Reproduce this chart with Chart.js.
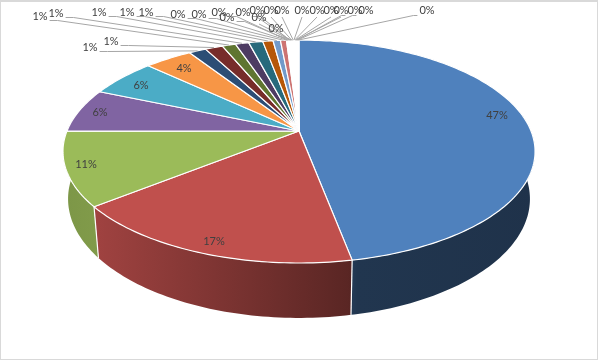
<!DOCTYPE html>
<html><head><meta charset="utf-8">
<style>
html,body{margin:0;padding:0;background:#fff;overflow:hidden}
#wrap{position:relative;width:598px;height:360px}
#frame{position:absolute;left:0;top:0;right:0;bottom:0;box-sizing:border-box;border:1px solid #d9d9d9;border-top-width:2px;pointer-events:none}
canvas{display:block}
</style>
<script src="https://cdn.jsdelivr.net/npm/chart.js@4"></script>
</head><body>
<div id="wrap"><canvas id="c" width="598" height="360"></canvas><div id="frame"></div></div>
<script>
// Data
const categories = ['A','B','C','D','E','F','G','H','I','J','K','L','M','N','O','P','Q','R','S','T','U','V','W','X','Y','Z','AA','AB','AC','AD'];
const values = [47,17.3,10.7,6.4,5.55,3.9,1.4,1.45,1.1,1.1,1.15,0.85,0.6,0.49,
  0.07,0.06,0.08,0.06,0.07,0.06,0.05,0.07,0.06,0.06,0.05,0.07,0.06,0.06,0.06,0.08];
const sliceColors = ['#4F81BD','#C0504D','#9BBB59','#8064A2','#4BACC6','#F79646','#2C4D75','#772C2A','#5F7530','#4D3B62','#276A7C','#B65708','#729ACA','#CD7371',
  '#FFFFFF','#FFFFFF','#FFFFFF','#FFFFFF','#FFFFFF','#FFFFFF','#FFFFFF','#FFFFFF','#FFFFFF','#FFFFFF','#FFFFFF','#FFFFFF','#FFFFFF','#FFFFFF','#FFFFFF','#FFFFFF'];

// Layout of the labels, by slice (text centre on the page)
const labelSpots = [[497,115],[214,241],[86,164],[100,112],[141,85],[184,68],
  [90,47],[111,41],[40,16],[56,13],[99,12],[127,12],[146,12],
  [178,14],[199,14],[219,12],[227,17],[243,12],[257,10],[259,17],[271,10],[276,28],[282,10],
  [302,10],[317,10],[331,10],[341,10],[355,10],[366,10],[427,10]];
const firstOutside = 6;

// Perspective of the tilted disc
const P = {cx:299, cy:131, rx:232, ry:107.7, k:-0.184, bx:227, by:115, by0:177};
const top3d = (a)=>{const u=Math.cos(a),v=Math.sin(a),d=1+P.k*v;return [P.cx+P.rx*u/d,P.cy+P.ry*v/d];};
const bot3d = (a)=>{const u=Math.cos(a),v=Math.sin(a),d=1+P.k*v;return [P.cx+P.bx*u/d,P.by0+P.by*v/d];};

function shade(hex,f){const n=parseInt(hex.slice(1),16);
  return `rgb(${Math.round((n>>16&255)*f)},${Math.round((n>>8&255)*f)},${Math.round((n&255)*f)})`;}
function wallFill(ctx,hex){const g=ctx.createLinearGradient(60,0,540,0);
  [[0,.80],[.08,.83],[.6,.47],[.62,.42],[1,.39]].forEach(s=>g.addColorStop(s[0],shade(hex,s[1])));return g;}

const pie3d = {
  id:'pie3d',
  beforeDatasetsDraw(chart){
    const ctx=chart.ctx, arcs=chart.getDatasetMeta(0).data, step=0.02;
    ctx.save();
    // side walls
    arcs.forEach((arc,i)=>{
      const a0=Math.max(arc.startAngle,-0.15), a1=Math.min(arc.endAngle,Math.PI+0.15);
      if(a1<=a0) return;
      ctx.beginPath();
      for(let a=a0;a<a1;a+=step){
        const b=Math.min(a+step,a1),p=top3d(a),q=top3d(b),r=bot3d(b),s=bot3d(a);
        ctx.moveTo(p[0],p[1]);ctx.lineTo(q[0],q[1]);ctx.lineTo(r[0],r[1]);ctx.lineTo(s[0],s[1]);ctx.closePath();
      }
      ctx.fillStyle=wallFill(ctx,sliceColors[i]);ctx.fill();
    });
    // white edges between walls
    ctx.strokeStyle='#fff';ctx.lineWidth=1.2;
    arcs.forEach(arc=>{
      const a=arc.endAngle; if(a<0||a>Math.PI) return;
      const p=top3d(a),q=bot3d(a);
      ctx.beginPath();ctx.moveTo(p[0],p[1]);ctx.lineTo(q[0],q[1]);ctx.stroke();
    });
    // top face
    arcs.forEach((arc,i)=>{
      ctx.beginPath();ctx.moveTo(P.cx,P.cy);
      for(let a=arc.startAngle;a<arc.endAngle;a+=step){const p=top3d(a);ctx.lineTo(p[0],p[1]);}
      const e=top3d(arc.endAngle);ctx.lineTo(e[0],e[1]);ctx.closePath();
      ctx.fillStyle=sliceColors[i];ctx.fill();
      ctx.strokeStyle='#fff';ctx.lineWidth=1.2;ctx.lineJoin='round';ctx.stroke();
    });
    // leader lines and labels
    ctx.font='11px Lato';ctx.textAlign='center';ctx.textBaseline='middle';
    const total=values.reduce((s,v)=>s+v,0);
    arcs.forEach((arc,i)=>{
      const [x,y]=labelSpots[i], t=Math.round(values[i]/total*100)+'%';
      if(i>=firstOutside){
        const tgt=top3d((arc.startAngle+arc.endAngle)/2), hw=ctx.measureText(t).width/2;
        ctx.strokeStyle='#A6A6A6';ctx.lineWidth=1;ctx.beginPath();
        if(x<tgt[0]-45){ctx.moveTo(x+hw+2,y+4.5);ctx.lineTo(x+hw+10,y+4.5);}
        else if(x>tgt[0]+45){ctx.moveTo(x-hw-2,y+5.5);ctx.lineTo(x-hw-6,y+5.5);}
        else {ctx.moveTo(x,y+7);}
        ctx.lineTo(tgt[0],tgt[1]);ctx.stroke();
      }
    });
    ctx.fillStyle='#404040';
    arcs.forEach((arc,i)=>{
      const [x,y]=labelSpots[i];
      ctx.fillText(Math.round(values[i]/total*100)+'%',x,y);
    });
    ctx.restore();
    return false;
  }
};

new Chart(document.getElementById('c'),{
  type:'pie',
  data:{labels:categories,datasets:[{data:values,backgroundColor:sliceColors,borderColor:'#fff',borderWidth:1}]},
  options:{responsive:false,animation:false,rotation:0,
    plugins:{legend:{display:false},tooltip:{enabled:false}}},
  plugins:[pie3d]
});
</script>
</body></html>
